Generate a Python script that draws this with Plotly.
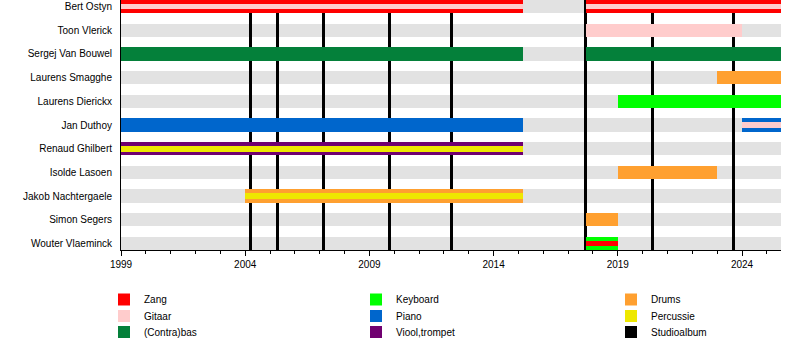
import plotly.graph_objects as go

# ---------------- data ----------------
members = ["Bert Ostyn", "Toon Vlerick", "Sergej Van Bouwel", "Laurens Smagghe",
           "Laurens Dierickx", "Jan Duthoy", "Renaud Ghilbert", "Isolde Lasoen",
           "Jakob Nachtergaele", "Simon Segers", "Wouter Vlaeminck"]

start_year = 1999
end_year = 2025.57

stint_member = ["Bert Ostyn", "Bert Ostyn", "Bert Ostyn", "Bert Ostyn",
                "Toon Vlerick",
                "Sergej Van Bouwel", "Sergej Van Bouwel",
                "Laurens Smagghe",
                "Laurens Dierickx",
                "Jan Duthoy", "Jan Duthoy", "Jan Duthoy",
                "Renaud Ghilbert", "Renaud Ghilbert",
                "Isolde Lasoen",
                "Jakob Nachtergaele", "Jakob Nachtergaele",
                "Simon Segers",
                "Wouter Vlaeminck", "Wouter Vlaeminck"]
stint_instrument = ["Zang", "Gitaar", "Zang", "Gitaar",
                    "Gitaar",
                    "(Contra)bas", "(Contra)bas",
                    "Drums",
                    "Keyboard",
                    "Piano", "Piano", "Gitaar",
                    "Viool,trompet", "Percussie",
                    "Drums",
                    "Drums", "Percussie",
                    "Drums",
                    "Keyboard", "Zang"]
stint_start = [1999, 1999, 2017.71, 2017.71,
               2017.71,
               1999, 2017.71,
               2023.0,
               2019.0,
               1999, 2024.0, 2024.0,
               1999, 1999,
               2019.0,
               2004.0, 2004.0,
               2017.71,
               2017.71, 2017.71]
stint_end = [2015.19, 2015.19, 2025.57, 2025.57,
             2024.0,
             2015.19, 2025.57,
             2025.57,
             2025.57,
             2015.19, 2025.57, 2025.57,
             2015.19, 2015.19,
             2023.0,
             2015.19, 2015.19,
             2019.0,
             2019.0, 2019.0]
stint_secondary = [False, True, False, True,
                   False,
                   False, False,
                   False,
                   False,
                   False, False, True,
                   False, True,
                   False,
                   False, True,
                   False,
                   False, True]

album_years = [2004.21, 2005.30, 2007.16, 2009.80, 2012.30, 2017.71, 2020.39, 2023.65]
tick_years = [1999, 2004, 2009, 2014, 2019, 2024]

# ---------------- styles ----------------
colors = {
    "Zang": "#ff0000",
    "Gitaar": "#ffcccc",
    "(Contra)bas": "#04803a",
    "Keyboard": "#00ff00",
    "Piano": "#0066cc",
    "Viool,trompet": "#700070",
    "Drums": "#ffa030",
    "Percussie": "#eee800",
    "Studioalbum": "#000000",
}
draw_order = ["Keyboard", "Zang", "Piano", "Viool,trompet", "Drums",
              "(Contra)bas", "Gitaar", "Percussie"]
legend_order = ["Zang", "Gitaar", "(Contra)bas", "Keyboard", "Piano",
                "Viool,trompet", "Drums", "Percussie", "Studioalbum"]

FONT = "Liberation Sans, Arial, sans-serif"
GRAY = "#e2e2e2"
BAR_W = 0.56
INNER_W = 0.24
Y_PAD = 0.28
L, R, T, B, W, H = 121, 19, 0, 100, 800, 350
PW, PH = W - L - R, H - T - B

legend_sq_left = [118, 370, 625]
legend_row_mid = [299.5, 316, 332]

row = {m: i for i, m in enumerate(members)}
legend_id = {name: ("legend" if k == 0 else f"legend{k+1}") for k, name in enumerate(legend_order)}

fig = go.Figure()

n = len(members)
fig.add_trace(go.Bar(
    orientation="h", y=list(range(n)), base=[start_year] * n,
    x=[end_year - start_year] * n, width=BAR_W,
    marker=dict(color=GRAY, line=dict(width=0)),
    showlegend=False, hoverinfo="skip"))

fig.add_trace(go.Bar(
    orientation="v", x=album_years, base=[-Y_PAD] * len(album_years),
    y=[n - 1 + 2 * Y_PAD] * len(album_years), width=0.12,
    marker=dict(color=colors["Studioalbum"], line=dict(width=0)),
    name="Studioalbum", legend=legend_id["Studioalbum"], hoverinfo="x"))

for inst in draw_order:
    idx = [i for i, s in enumerate(stint_instrument) if s == inst]
    fig.add_trace(go.Bar(
        orientation="h",
        y=[row[stint_member[i]] for i in idx],
        base=[stint_start[i] for i in idx],
        x=[stint_end[i] - stint_start[i] for i in idx],
        width=[INNER_W if stint_secondary[i] else BAR_W for i in idx],
        marker=dict(color=colors[inst], line=dict(width=0)),
        name=inst, legend=legend_id[inst]))

layout_legends = {}
for k, name in enumerate(legend_order):
    col, r = k // 3, k % 3
    left_px = legend_sq_left[col] - 14
    layout_legends[legend_id[name]] = dict(
        x=(left_px - L) / PW, y=(PH + T - legend_row_mid[r]) / PH,
        xanchor="left", yanchor="middle", bgcolor="rgba(0,0,0,0)",
        borderwidth=0, font=dict(family=FONT, size=10, color="black"),
        itemwidth=30)

fig.update_layout(
    width=W, height=H, margin=dict(l=L, r=R, t=T, b=B, pad=0),
    paper_bgcolor="white", plot_bgcolor="white",
    barmode="overlay", bargap=0,
    font=dict(family=FONT, size=10, color="black"),
    xaxis=dict(type="linear", range=[start_year, end_year], tickvals=tick_years,
               ticks="outside", ticklen=5, tickwidth=1, tickcolor="black",
               showline=True, linecolor="black", linewidth=1,
               showgrid=False, zeroline=False,
               tickfont=dict(family=FONT, size=10, color="black"),
               minor=dict(dtick=1, tick0=start_year, ticks="outside", ticklen=3,
                          tickwidth=1, tickcolor="black", showgrid=False)),
    yaxis=dict(type="linear", range=[n - 1 + Y_PAD, -Y_PAD],
               tickvals=list(range(n)), ticktext=members, ticks="",
               showline=True, linecolor="black", linewidth=1,
               showgrid=False, zeroline=False, ticklabelstandoff=6,
               tickfont=dict(family=FONT, size=10, color="black")),
    **layout_legends,
)

fig.write_html("out.html")
